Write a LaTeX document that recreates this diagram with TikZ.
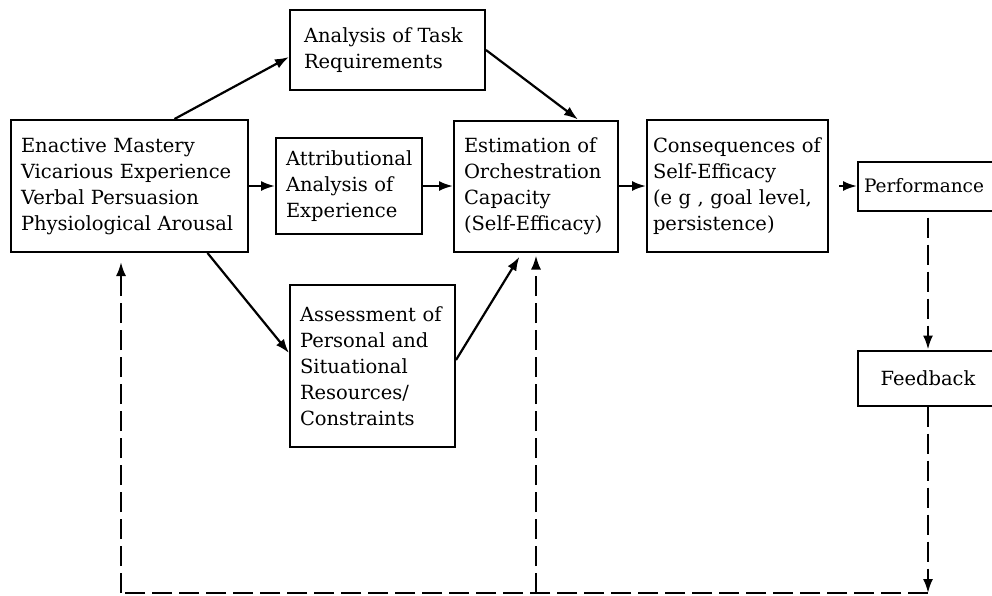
\documentclass[tikz,border=0pt]{standalone}
\usepackage{fontspec}
\setmainfont{DejaVu Serif}
\usetikzlibrary{positioning,arrows.meta}

\begin{document}
\begin{tikzpicture}[
    x=1pt, y=-1pt,
    node distance=28pt,
    every node/.style={
        font=\fontsize{19.5}{26}\selectfont,
        align=left
    },
    box/.style={
        rectangle,
        draw=black,
        line width=2pt,
        inner xsep=10pt,
        inner ysep=0pt
    },
    arrow/.style={
        -{Latex[length=14pt,width=10pt]},
        line width=2.2pt
    },
    backline/.style={
        line width=2.2pt,
        dash pattern=on 20pt off 7pt
    },
    backarrow/.style={
        arrow,
        backline
    }
]
\path[use as bounding box] (0,0) rectangle (992,595);
\clip (0,0) rectangle (992,595);

\node[box, text width=217pt, minimum height=132pt] (src) at (129.5,186) {Enactive Mastery\\Vicarious Experience\\Verbal Persuasion\\Physiological Arousal};
\node[box, text width=126pt, minimum height=96pt, right=26pt of src] (attr) {Attributional\\Analysis of\\Experience};
\node[box, text width=144pt, minimum height=131pt, right=30pt of attr] (est) {Estimation of\\Orchestration\\Capacity\\(Self-Efficacy)};
\node[box, inner xsep=6pt, text width=169pt, minimum height=132pt, right=27pt of est] (cons) {Consequences of\\Self-Efficacy\\(e g , goal level,\\persistence)};
\node[box, inner xsep=6pt, text width=128pt, minimum height=49pt, right=of cons, font=\fontsize{18.5}{26}\selectfont] (perf) {Performance};
\node[box, inner xsep=6pt, text width=128pt, minimum height=55pt, below=138pt of perf, align=center] (fb) {Feedback};
\node[box, inner xsep=14pt, text width=167pt, minimum height=80pt] (ana) at (387.5,50) {Analysis of Task\\Requirements};
\node[box, text width=145pt, minimum height=162pt] (ass) at (372.5,366) {Assessment of\\Personal and\\Situational\\Resources/\\Constraints};

\draw[arrow] ([xshift=45pt]src.north) -- ([yshift=-7pt]ana.west);
\draw[arrow] (ana.east) -- ([xshift=42pt]est.north);
\draw[arrow] (src.east) -- (attr.west);
\draw[arrow] (attr.east) -- (est.west);
\draw[arrow] (est.east) -- (cons.west);
\draw[arrow, shorten <=10pt] (cons.east) -- (perf.west);
\draw[arrow] ([xshift=78pt]src.south) -- ([yshift=13pt]ass.west);
\draw[arrow, shorten >=5pt] ([yshift=6pt]ass.east) -- ([xshift=-14pt]est.south);

% feedback loop
\coordinate (botL) at (121,593);
\coordinate (botR) at (fb.south |- botL);
\coordinate (botM) at (est.south |- botL);
\draw[backarrow, shorten <=6pt] (perf.south) -- (fb.north);
\draw[backarrow] (fb.south) -- (botR);
\draw[backline] (botR) -- (botL);
\draw[backarrow, shorten >=9pt] (botL) -- (botL |- src.south);
\draw[backarrow, shorten >=3pt] (botM) -- (est.south);

\end{tikzpicture}
\end{document}
